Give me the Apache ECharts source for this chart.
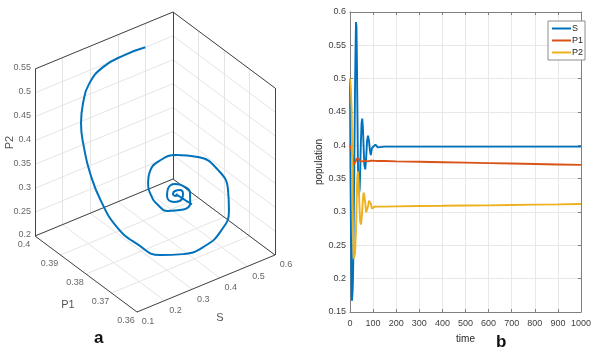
<!DOCTYPE html>
<html>
<head>
<meta charset="utf-8">
<script src="https://cdn.jsdelivr.net/npm/echarts@6/dist/echarts.min.js"></script>
<style>
  html, body { margin: 0; padding: 0; background: #fff; }
  #chart { width: 594px; height: 349px; }
</style>
</head>
<body>
<div id="chart"></div>
<script>
// model trajectory, used by both panels (a: phase space, b: time series)
const time = [0, 1, 2.5, 4, 5.5, 7, 8.5, 10, 11.5, 13, 14.5, 16, 18, 20, 22, 24, 26, 28, 30, 32, 34, 36, 38, 40, 42, 44, 47, 50, 53, 56, 59, 62, 66, 70, 74, 78, 82, 86, 90, 95, 100, 110, 120, 150, 200, 300, 400, 500, 600, 700, 800, 900, 1000];
const S = [0.5, 0.424, 0.339, 0.277, 0.23, 0.178, 0.167, 0.174, 0.184, 0.201, 0.237, 0.287, 0.348, 0.42, 0.493, 0.544, 0.585, 0.578, 0.524, 0.452, 0.383, 0.343, 0.325, 0.324, 0.335, 0.36, 0.404, 0.433, 0.44, 0.425, 0.397, 0.371, 0.364, 0.382, 0.407, 0.4145, 0.407, 0.393, 0.3855, 0.396, 0.398, 0.401, 0.397, 0.398, 0.398, 0.398, 0.398, 0.398, 0.398, 0.398, 0.398, 0.398, 0.398];
const P1 = [0.4, 0.3998, 0.3992, 0.398, 0.3952, 0.3904, 0.388, 0.3864, 0.3832, 0.3788, 0.3748, 0.3712, 0.3688, 0.368, 0.3696, 0.372, 0.3768, 0.38, 0.382, 0.3828, 0.382, 0.3812, 0.38, 0.3788, 0.3772, 0.376, 0.3752, 0.3752, 0.376, 0.3768, 0.3772, 0.3772, 0.3768, 0.376, 0.3756, 0.376, 0.3764, 0.3768, 0.3768, 0.3768, 0.3768, 0.3767, 0.3766, 0.3765, 0.376, 0.3754, 0.3747, 0.374, 0.3733, 0.3727, 0.372, 0.3713, 0.3707];
const P2 = [0.5, 0.503, 0.5, 0.484, 0.467, 0.456, 0.416, 0.368, 0.32, 0.279, 0.251, 0.23, 0.227, 0.23, 0.238, 0.258, 0.273, 0.304, 0.336, 0.354, 0.361, 0.353, 0.339, 0.317, 0.2995, 0.286, 0.281, 0.288, 0.304, 0.319, 0.329, 0.325, 0.313, 0.2995, 0.301, 0.3084, 0.317, 0.3167, 0.3123, 0.3054, 0.3075, 0.3085, 0.308, 0.308, 0.3085, 0.309, 0.3093, 0.3097, 0.31, 0.3105, 0.311, 0.3114, 0.312];

// 3d box ticks (panel a)
const sTicks = [0.1, 0.2, 0.3, 0.4, 0.5, 0.6];
const p1Ticks = [0.36, 0.37, 0.38, 0.39, 0.4];
const p2Ticks = [0.2, 0.25, 0.3, 0.35, 0.4, 0.45, 0.5, 0.55];

const FONT = "'Liberation Sans Narrow', 'Liberation Sans', Arial, sans-serif";
const C_S = '#0072BD', C_P1 = '#D95319', C_P2 = '#EDB120';

// fixed oblique view of the box: screen pixel of the corner (Smin, P1min, P2min)
// and the screen vector of each full axis range
const origin = [137, 312];
const dirS = [138, -57], dirP1 = [-102, -76], dirP2 = [0, -167];
const s0 = sTicks[0], s1 = sTicks[sTicks.length - 1];
const q0 = p1Ticks[0], q1 = p1Ticks[p1Ticks.length - 1];
const z0 = p2Ticks[0], z1 = p2Ticks[p2Ticks.length - 1];

function proj(s, p, z) {
  const a = (s - s0) / (s1 - s0), b = (p - q0) / (q1 - q0), c = (z - z0) / (z1 - z0);
  return [origin[0] + a * dirS[0] + b * dirP1[0] + c * dirP2[0],
          origin[1] + a * dirS[1] + b * dirP1[1] + c * dirP2[1]];
}
const seg = (p, q) => ({ coords: [proj(...p), proj(...q)] });

// grid lines on floor and the two back walls
let gridLines = [];
sTicks.forEach(s => { gridLines.push(seg([s, q0, z0], [s, q1, z0])); gridLines.push(seg([s, q1, z0], [s, q1, z1])); });
p1Ticks.forEach(p => { gridLines.push(seg([s0, p, z0], [s1, p, z0])); gridLines.push(seg([s1, p, z0], [s1, p, z1])); });
p2Ticks.forEach(z => { gridLines.push(seg([s0, q1, z], [s1, q1, z])); gridLines.push(seg([s1, q0, z], [s1, q1, z])); });

const boxEdges = [
  seg([s0, q1, z0], [s0, q1, z1]),
  seg([s1, q1, z0], [s1, q1, z1]),
  seg([s1, q0, z0], [s1, q0, z1]),
  seg([s0, q1, z1], [s1, q1, z1]),
  seg([s1, q1, z1], [s1, q0, z1]),
  seg([s0, q0, z0], [s0, q1, z0]),
  seg([s0, q0, z0], [s1, q0, z0]),
  seg([s0, q1, z0], [s1, q1, z0]),
  seg([s1, q0, z0], [s1, q1, z0])
];

const curve3d = time.map((t, i) => proj(S[i], P1[i], P2[i]));

const tickLabels = [];
p2Ticks.forEach(z => { const p = proj(s0, q1, z); tickLabels.push({ value: [p[0] - 4, p[1] - 1, String(z)], label: { align: 'right' } }); });
p1Ticks.forEach(v => { const p = proj(s0, v, z0); tickLabels.push({ value: [p[0] - 11, p[1] + 9, String(v)] }); });
sTicks.forEach(v => { const p = proj(v, q0, z0); tickLabels.push({ value: [p[0] + 11, p[1] + 10, String(v)] }); });

const pm = proj(s0, (q0 + q1) / 2, z0), sm = proj((s0 + s1) / 2, q0, z0), zm = proj(s0, q1, 0.4);
const axisNames = [
  { value: [zm[0] - 25, zm[1] + 2, 'P2'], label: { rotate: 90 } },
  { value: [pm[0] - 18, pm[1] + 31, 'P1'] },
  { value: [sm[0] + 14, sm[1] + 34, 'S'] }
];

const line = (name, ys, color) => ({
  name, type: 'line', xAxisIndex: 1, yAxisIndex: 1, symbol: 'none',
  data: time.map((t, i) => [t, ys[i]]),
  lineStyle: { color, width: 1.9 }, itemStyle: { color }
});

const chart = echarts.init(document.getElementById('chart'));
chart.setOption({
  animation: false,
  textStyle: { fontFamily: FONT },
  title: [
    { text: 'a', left: 89, top: 325, textStyle: { fontSize: 17, fontWeight: 'bold', color: '#111', fontFamily: FONT } },
    { text: 'b', left: 491, top: 329, textStyle: { fontSize: 17, fontWeight: 'bold', color: '#111', fontFamily: FONT } }
  ],
  legend: {
    data: ['S', 'P1', 'P2'], orient: 'vertical', left: 548, top: 21,
    icon: 'rect', itemWidth: 19, itemHeight: 2, itemGap: 3, padding: [3, 2, 3, 4],
    borderColor: '#8c8c8c', borderWidth: 1, backgroundColor: '#fff',
    textStyle: { fontSize: 9, color: '#262626', fontFamily: FONT, padding: [0, 0, 0, -4] }
  },
  grid: [
    { left: 0, top: 0, width: 300, height: 349 },
    { left: 350, top: 12, width: 237, height: 300 }
  ],
  xAxis: [
    { gridIndex: 0, type: 'value', min: 0, max: 300, show: false },
    {
      gridIndex: 1, type: 'value', min: 0, max: 1000, interval: 100,
      name: 'time', nameLocation: 'middle', nameGap: 22,
      nameTextStyle: { fontSize: 10, color: '#262626' },
      axisLine: { onZero: false, lineStyle: { color: '#808080' } },
      axisTick: { inside: true, length: 3, lineStyle: { color: '#808080' } },
      axisLabel: { fontSize: 9, color: '#404040', margin: 7, formatter: v => String(v) },
      splitLine: { show: true, lineStyle: { color: '#e8e8e8' } }
    },
    {
      gridIndex: 1, type: 'value', min: 0, max: 1000, interval: 100, position: 'top',
      axisLine: { onZero: false, lineStyle: { color: '#808080' } },
      axisTick: { inside: true, length: 3, lineStyle: { color: '#808080' } },
      axisLabel: { show: false }, splitLine: { show: false }
    }
  ],
  yAxis: [
    { gridIndex: 0, type: 'value', min: 0, max: 349, inverse: true, show: false },
    {
      gridIndex: 1, type: 'value', min: 0.15, max: 0.6, interval: 0.05,
      name: 'population', nameLocation: 'middle', nameGap: 20,
      nameTextStyle: { fontSize: 10, color: '#262626' },
      axisLine: { show: true, onZero: false, lineStyle: { color: '#808080' } },
      axisTick: { show: true, inside: true, length: 3, lineStyle: { color: '#808080' } },
      axisLabel: { fontSize: 9, color: '#404040', margin: 4, formatter: v => String(+v.toFixed(2)) },
      splitLine: { show: true, lineStyle: { color: '#e8e8e8' } }
    },
    {
      gridIndex: 1, type: 'value', min: 0.15, max: 0.6, interval: 0.05, position: 'right',
      axisLine: { show: true, onZero: false, lineStyle: { color: '#808080' } },
      axisTick: { show: true, inside: true, length: 3, lineStyle: { color: '#808080' } },
      axisLabel: { show: false }, splitLine: { show: false }
    }
  ],
  series: [
    {
      type: 'lines', coordinateSystem: 'cartesian2d', xAxisIndex: 0, yAxisIndex: 0, silent: true,
      data: gridLines, lineStyle: { color: '#e4e4e4', width: 1, opacity: 1 }
    },
    {
      type: 'lines', coordinateSystem: 'cartesian2d', xAxisIndex: 0, yAxisIndex: 0, silent: true,
      data: boxEdges, lineStyle: { color: '#444', width: 1, opacity: 1 }
    },
    {
      name: 'trajectory', type: 'line', xAxisIndex: 0, yAxisIndex: 0, symbol: 'none', smooth: 0.5,
      data: curve3d, lineStyle: { color: C_S, width: 2 }
    },
    {
      type: 'scatter', xAxisIndex: 0, yAxisIndex: 0, symbolSize: 0.1, silent: true,
      itemStyle: { color: 'transparent' }, data: tickLabels,
      label: { show: true, position: 'inside', formatter: p => p.value[2], fontSize: 9, color: '#404040', fontFamily: FONT }
    },
    {
      type: 'scatter', xAxisIndex: 0, yAxisIndex: 0, symbolSize: 0.1, silent: true,
      itemStyle: { color: 'transparent' }, data: axisNames,
      label: { show: true, position: 'inside', formatter: p => p.value[2], fontSize: 11, color: '#262626', fontFamily: FONT }
    },
    line('S', S, C_S),
    line('P1', P1, C_P1),
    line('P2', P2, C_P2)
  ]
});
</script>
</body>
</html>
